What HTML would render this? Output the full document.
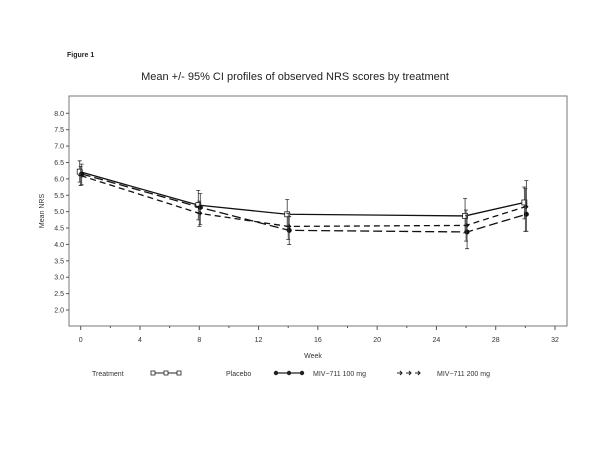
<!DOCTYPE html>
<html><head><meta charset="utf-8"><style>
html,body{margin:0;padding:0;background:#fff;}
svg{display:block;font-family:"Liberation Sans",sans-serif;}
</style></head><body>
<svg id="chart" width="602" height="451" viewBox="0 0 602 451" xmlns="http://www.w3.org/2000/svg">
<text x="67" y="57" font-size="7" font-weight="bold" fill="#222">Figure 1</text>
<text x="295" y="80" font-size="11" text-anchor="middle" fill="#222">Mean +/- 95% CI profiles of observed NRS scores by treatment</text>
<rect x="69" y="96" width="498" height="230" fill="none" stroke="#777" stroke-width="1"/>
<g id="axes"></g>
<g id="marks"></g>
<text transform="translate(44,211) rotate(-90)" font-size="7" text-anchor="middle" fill="#333">Mean NRS</text>
<text x="313" y="358" font-size="7" text-anchor="middle" fill="#333">Week</text>
<g font-size="7" fill="#333">
<text x="92" y="376">Treatment</text>
<g>
<line x1="152" y1="373" x2="181" y2="373" stroke="#222"/>
<rect x="151" y="371" width="4" height="4" fill="#fff" stroke="#222" stroke-width="0.8"/>
<rect x="164" y="371" width="4" height="4" fill="#fff" stroke="#222" stroke-width="0.8"/>
<rect x="177" y="371" width="4" height="4" fill="#fff" stroke="#222" stroke-width="0.8"/>
<text x="226" y="376">Placebo</text></g>
<g>
<line x1="275" y1="373" x2="303" y2="373" stroke="#222" stroke-width="1.2"/>
<circle cx="276" cy="373" r="2.2" fill="#222"/><circle cx="289" cy="373" r="2.2" fill="#222"/><circle cx="302" cy="373" r="2.2" fill="#222"/>
<text x="313" y="376">MIV−711 100 mg</text></g>
<g>
<path d="M397,373h5M406,373h5M415,373h5M400,371l2,2l-2,2M409,371l2,2l-2,2M418,371l2,2l-2,2" stroke="#222" stroke-width="1.1" fill="none"/>
<text x="437" y="376">MIV−711 200 mg</text></g>
</g>
</svg>
<script>
const weeks=[0,8,14,26,30];
const placebo=[6.22,5.2,4.92,4.87,5.28];
const placeboLo=[5.9,4.75,4.45,4.35,4.78];
const placeboHi=[6.55,5.65,5.37,5.4,5.75];
const mg100=[6.15,5.13,4.43,4.38,4.92];
const mg100Lo=[5.82,4.6,4.0,3.87,4.4];
const mg100Hi=[6.45,5.55,4.85,4.88,5.95];
const mg200=[6.1,4.95,4.55,4.58,5.15];
const mg200Lo=[5.8,4.55,4.15,4.1,4.4];
const mg200Hi=[6.38,5.32,4.95,5.05,5.7];
const xTicks=[0,4,8,12,16,20,24,28,32];
const yTicks=[2.0,2.5,3.0,3.5,4.0,4.5,5.0,5.5,6.0,6.5,7.0,7.5,8.0];
const NS="http://www.w3.org/2000/svg";
const X=w=>80.7+w*(555-80.7)/32;
const Y=v=>310-(v-2)*(310-113.3)/6;
function mk(t,a,p){const e=document.createElementNS(NS,t);for(const k in a)e.setAttribute(k,a[k]);p.appendChild(e);return e;}
const axes=document.getElementById('axes'),marks=document.getElementById('marks');
xTicks.forEach((t,i)=>{
 const l=mk('line',{x1:X(t),x2:X(t),y1:326,y2:330,stroke:'#555'},axes);
 
 
 if(i<xTicks.length-1){const m=mk('line',{x1:X(t+2),x2:X(t+2),y1:326,y2:328,stroke:'#555'},axes);
 
 }
 const tx=mk('text',{x:X(t),y:342,'font-size':7,'text-anchor':'middle',fill:'#333'},axes);tx.textContent=t;
 
 
});
yTicks.forEach(t=>{
 const l=mk('line',{x1:66,x2:69,y1:Y(t),y2:Y(t),stroke:'#555'},axes);
 
 
 const tx=mk('text',{x:64,y:Y(t)+2.5,'font-size':7,'text-anchor':'end',fill:'#333'},axes);tx.textContent=t.toFixed(1);
 
 
});
function series(name,vals,lo,hi,off,dash,marker){
 const g=mk('g',{},marks);
 
 
 const pts=weeks.map((w,i)=>X(w)+off+','+Y(vals[i])).join(' ');
 const pl=mk('polyline',{points:pts,fill:'none',stroke:'#111','stroke-width':1.3,'stroke-dasharray':dash},g);
 
 
 weeks.forEach((w,i)=>{
  const x=X(w)+off;
  const e=mk('path',{d:`M${x},${Y(lo[i])}V${Y(hi[i])}M${x-2},${Y(lo[i])}H${x+2}M${x-2},${Y(hi[i])}H${x+2}`,stroke:'#333','stroke-width':0.8,fill:'none'},g);
  
  
  let m;
  if(marker==='sq')m=mk('rect',{x:x-2.5,y:Y(vals[i])-2.5,width:5,height:5,fill:'#fff',stroke:'#222','stroke-width':0.8},g);
  else if(marker==='ci')m=mk('circle',{cx:x,cy:Y(vals[i]),r:2.5,fill:'#111'},g);
  else m=mk('path',{d:`M${x-2.5},${Y(vals[i])}H${x+2.5}M${x+0.5},${Y(vals[i])-2}L${x+2.5},${Y(vals[i])}L${x+0.5},${Y(vals[i])+2}`,stroke:'#111',fill:'none'},g);
  
  
 });
}
series('placebo',placebo,placeboLo,placeboHi,-1,'none','sq');
series('mg100',mg100,mg100Lo,mg100Hi,1,'9,4','ci');
series('mg200',mg200,mg200Lo,mg200Hi,0,'6,4','ar');
</script>
</body></html>
